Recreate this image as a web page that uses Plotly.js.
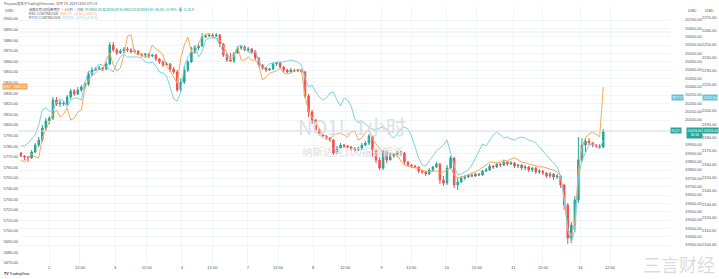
<!DOCTYPE html>
<html><head><meta charset="utf-8">
<script src="https://cdn.plot.ly/plotly-3.0.1.min.js"></script>
<style>html,body{margin:0;padding:0;background:#fff;}#chart{width:719px;height:279px;}</style>
</head><body><div id="chart"></div>
<script>
const W = 719, H = 279;

// NQ1! 1h candles
const nqOpen = [19902,19884,19878,19872,19908,19950,19980,20052,20094,20112,
20220,20196,20202,20196,20238,20274,20256,20280,20298,20316,
20376,20400,20406,20412,20406,20436,20550,20520,20502,20514,
20526,20520,20508,20514,20496,20490,20496,20484,20490,20466,
20448,20430,20436,20406,20388,20280,20328,20400,20448,20508,
20532,20544,20598,20604,20610,20604,20610,20556,20490,20460,
20454,20502,20532,20538,20520,20526,20508,20472,20430,20412,
20400,20406,20436,20442,20418,20400,20388,20400,20394,20400,
20388,20244,20148,20100,20040,20016,20004,19992,19980,19902,
19932,19950,19944,19938,19926,19920,19932,19950,19962,20004,
19920,19860,19812,19908,19860,19884,19890,19908,19902,19848,
19830,19824,19818,19794,19788,19776,19800,19818,19836,19740,
19722,19812,19872,19710,19728,19752,19758,19770,19764,19776,
19770,19794,19800,19824,19818,19836,19830,19848,19836,19842,
19824,19830,19812,19818,19800,19812,19788,19794,19782,19764,
19776,19758,19764,19710,19590,19392,19470,19620,19860,19950,
19974,19962,19950,19944,19938];
const nqHigh = [19908,19890,19884,19920,19962,19998,20070,20112,20124,20238,
20238,20220,20214,20250,20286,20286,20298,20310,20328,20394,
20418,20418,20424,20418,20448,20568,20568,20532,20526,20538,
20538,20532,20526,20520,20502,20502,20502,20496,20496,20472,
20460,20448,20442,20418,20400,20352,20424,20460,20538,20550,
20562,20622,20616,20622,20622,20622,20616,20562,20502,20502,
20508,20544,20550,20550,20538,20532,20520,20478,20436,20418,
20412,20448,20448,20448,20424,20406,20412,20406,20406,20406,
20394,20256,20160,20106,20052,20022,20010,19998,19986,19944,
19962,19956,19950,19944,19938,19938,19962,19974,20016,20010,
19926,19878,19920,19920,19902,19902,19914,19914,19908,19854,
19836,19830,19824,19800,19794,19812,19824,19848,19842,19764,
19830,19884,19878,19752,19764,19770,19776,19782,19782,19782,
19800,19812,19836,19830,19842,19842,19860,19854,19854,19848,
19836,19836,19830,19824,19818,19818,19806,19800,19788,19788,
19782,19776,19770,19716,19602,19488,19644,19998,19992,19992,
19992,19968,19956,19956,20046];
const nqLow = [19878,19860,19848,19866,19902,19938,19968,20034,20076,20100,
20184,20178,20184,20190,20226,20244,20250,20268,20286,20304,
20364,20394,20400,20394,20400,20430,20508,20490,20496,20502,
20508,20502,20502,20490,20478,20478,20472,20478,20454,20436,
20418,20424,20388,20376,20268,20268,20316,20388,20442,20496,
20520,20538,20592,20598,20592,20598,20538,20478,20448,20448,
20442,20496,20520,20514,20508,20496,20460,20418,20400,20388,
20394,20400,20424,20412,20388,20382,20388,20388,20388,20382,
20232,20118,20076,20022,20004,19992,19980,19968,19890,19896,
19926,19932,19932,19914,19908,19914,19920,19944,19950,19878,
19842,19800,19800,19842,19860,19872,19878,19884,19830,19818,
19812,19812,19782,19776,19764,19770,19788,19812,19716,19704,
19710,19806,19692,19680,19722,19740,19752,19758,19758,19764,
19764,19788,19794,19806,19812,19818,19824,19824,19830,19812,
19812,19800,19800,19788,19788,19776,19776,19770,19752,19752,
19740,19746,19692,19560,19356,19362,19428,19602,19848,19902,
19950,19938,19932,19932,19932];
const nqClose = [19884,19878,19872,19908,19950,19980,20052,20094,20112,20220,
20196,20202,20196,20238,20274,20256,20280,20298,20316,20376,
20400,20406,20412,20406,20436,20550,20520,20502,20514,20526,
20520,20508,20514,20496,20490,20496,20484,20490,20466,20448,
20430,20436,20406,20388,20280,20328,20400,20448,20508,20532,
20544,20598,20604,20610,20604,20610,20556,20490,20460,20454,
20502,20532,20538,20520,20526,20508,20472,20430,20412,20400,
20406,20436,20442,20418,20400,20388,20400,20394,20400,20388,
20244,20148,20100,20040,20016,20004,19992,19980,19902,19932,
19950,19944,19938,19926,19920,19932,19950,19962,20004,19920,
19860,19812,19908,19860,19884,19890,19908,19902,19848,19830,
19824,19818,19794,19788,19776,19800,19818,19836,19740,19722,
19812,19872,19710,19728,19752,19758,19770,19764,19776,19770,
19794,19800,19824,19818,19836,19830,19848,19836,19842,19824,
19830,19812,19818,19800,19812,19788,19794,19782,19764,19776,
19758,19764,19710,19590,19392,19470,19620,19860,19950,19974,
19962,19950,19944,19938,20034];

// ES1! comparison (orange, left scale)
const esClose = [5767,5765,5769,5772.75,5769.75,5769,5787.75,5795.25,5803.75,5810.5,
5814.25,5807.5,5810.5,5816,5804.75,5806.5,5812.25,5814.25,5835,5842.5,
5846.25,5849,5852.75,5852,5861.25,5868,5856.5,5851,5853.75,5866,
5884,5885,5868,5866,5867,5863.25,5866,5875.5,5871.75,5869.75,
5866,5855.75,5851,5845.25,5839.5,5863.25,5875.5,5883,5869,5868,
5876.5,5883,5885.75,5885.75,5883,5882,5880.25,5874.5,5868,5861.25,
5865,5874.5,5861.25,5861.25,5864.25,5861.25,5861.25,5856.5,5842.5,5845.25,
5849,5850,5851,5853.75,5849,5848,5849,5851,5852,5852,
5826.5,5813.25,5806.5,5801,5797.25,5791.5,5788.75,5785.75,5790.5,5791.5,
5792.5,5790.5,5788.75,5793.5,5794.25,5785.75,5787.75,5792.5,5795.25,5786.75,
5782,5777.25,5773.5,5775.5,5771.75,5772.75,5771.75,5766,5762.25,5761.25,
5760.5,5759.5,5759.5,5757.5,5756.5,5755.75,5756.5,5756.5,5754.75,5755.75,
5757.5,5759.5,5752.75,5750,5751,5752,5752.75,5754.75,5755.75,5757.5,
5759.5,5762.25,5765,5765,5764.25,5765,5767,5766,5768,5769,
5767,5765,5764.25,5763.25,5762.25,5761.25,5760.5,5760.5,5759.5,5758.5,
5757.5,5755.75,5752,5731.25,5702.75,5695.25,5708.5,5757.5,5778.25,5787.75,
5791.5,5793.5,5791.5,5788.75,5835.75];

// RTY1! comparison (cyan, outer right scale)
const rtyClose = [2173.75,2173.75,2176,2179,2182,2189.5,2200.75,2202.25,2200,2200,
2206.75,2209,2207.5,2203,2208.25,2209.75,2209.75,2208.25,2221,2230,
2228.5,2231.5,2235.25,2234.5,2233,2231.5,2229.25,2236,2240.5,2242.75,
2240.5,2240.5,2240.5,2240.5,2239.75,2236.75,2236,2236.75,2233.75,2229.25,
2228.5,2226.25,2218,2209,2207.5,2214.25,2233.75,2240.5,2245,2249.5,
2240.5,2244.25,2253.25,2254.75,2254.75,2254.75,2249.5,2244.25,2240.5,2240.5,
2242.75,2248,2249.5,2246.5,2244.25,2243.5,2245,2238.25,2231.5,2233,
2235.25,2236,2236.75,2236.75,2236.75,2237.5,2238.25,2237.5,2236.75,2234.5,
2224.75,2218,2219.5,2214.25,2210.5,2208.25,2209.75,2213.5,2214.25,2208.25,
2203.75,2209.75,2208.25,2203.75,2194,2191,2192.5,2190.25,2188,2186.5,
2185.75,2187.25,2188,2186.5,2182,2179.75,2183.5,2186.5,2188,2186.5,
2181.25,2172.25,2164.75,2159.5,2158.75,2162.5,2166.25,2170,2172.25,2174.5,
2178.25,2169.25,2158.75,2152,2152.75,2154.25,2155.75,2159.5,2164.75,2169.25,
2175.25,2173.75,2177.5,2182,2184.25,2182,2179.75,2180.5,2179,2178.25,
2179.75,2180.5,2179.75,2178.25,2177.5,2176,2173,2169.25,2166.25,2163.25,
2161,2158,2151.25,2133.25,2110.75,2101.75,2110.75,2149.75,2163.25,2169.25,
2174.5,2175.25,2173.75,2171.5,2178.25];

// time axis labels (bar index -> label)
const xTickVals = [7.9,16.6,26.5,35.4,45.3,53.9,63.9,72.4,82.3,91.3,101.6,109.9,119.9,128.4,138.7,147,157.5,165.9];
const xTickText = ['2','12:00','3','12:00','4','12:00','7','12:00','8','12:00','9','12:00','10','12:00','11','12:00','14','12:00'];

// price scale labels (labels hidden behind the price tags are left out)
const nqTicks = [19350,19400,19450,19500,19550,19600,19650,19700,19750,19800,19850,19900,19950,20100,20150,20200,20250,20300,20350,20400,20450,20500,20550,20600,20650,20700];
const esTicks = [5670,5680,5690,5700,5710,5720,5730,5740,5750,5760,5770,5780,5790,5800,5810,5820,5830,5840,5850,5860,5870,5880,5890,5900];
const rtyTicks = [2100,2110,2120,2130,2140,2150,2160,2170,2180,2190,2200,2220,2230,2240,2250,2260,2270];

const barIdx = nqClose.map((_, i) => i);
const last = nqClose.length - 1;

const FONT = 'Liberation Sans, Arial, sans-serif';
const CJK = 'Noto Sans CJK SC, Liberation Sans, sans-serif';
const GREEN = '#26a69a', RED = '#ef5350', ORANGE = '#f6a85c', CYAN = '#7fd0e2';
const TXT = '#4a4e5a';

const px = v => v / W;
const py = v => 1 - v / H;

const traces = [
  {type:'scatter', mode:'lines', x: barIdx, y: rtyClose, yaxis:'y3',
   line:{color:CYAN, width:1}, hoverinfo:'skip'},
  {type:'scatter', mode:'lines', x: barIdx, y: esClose, yaxis:'y2',
   line:{color:ORANGE, width:1}, hoverinfo:'skip'},
  {type:'candlestick', x: barIdx, open: nqOpen, high: nqHigh, low: nqLow, close: nqClose,
   yaxis:'y', whiskerwidth:0,
   increasing:{line:{color:GREEN, width:1}, fillcolor:GREEN},
   decreasing:{line:{color:RED, width:1}, fillcolor:RED}, hoverinfo:'skip'}
];

function ann(x, y, text, o) {
  return Object.assign({xref:'paper', yref:'paper', x:px(x), y:py(y), text:text, showarrow:false,
    xanchor:'left', yanchor:'middle', font:{family:FONT, size:4, color:TXT}}, o || {});
}
function tag(x, y, text, bg, o) {
  return ann(x, y, text, Object.assign({bgcolor:bg, borderpad:0.6, font:{family:FONT, size:3.6, color:'#ffffff'}}, o || {}));
}

const annotations = [
  ann(2, 3.5, 'Pinyuan发布于TradingView.com, 10月 14, 2024 18:05 UTC+8', {font:{family:CJK, size:3.4, color:'#555'}}),
  ann(3, 10, 'USD'),
  ann(686, 10, 'USD'),
  ann(703, 10, 'USD'),
  ann(27, 9.6, '纳斯达克100指数期货 · 1小时 · CME  <span style="color:#26a69a">开19938.00 高20046.00 低19932.00 收20034.00 +96.00 (+0.48%)</span>  量  <span style="color:#26a69a">12.35 K</span>', {font:{family:CJK, size:3.2, color:TXT}}),
  ann(27, 13.8, 'ES1! CONTINUOUS  <span style="color:#f6a85c">5835.75  +47.00 (+0.81%)</span>', {font:{family:FONT, size:3.2, color:TXT}}),
  ann(27, 18, 'RTY1! CONTINUOUS  <span style="color:#7fd0e2">2178.25  +6.75 (+0.31%)</span>', {font:{family:FONT, size:3.2, color:TXT}}),
  // watermark
  ann(352, 126, 'NQ1!, 1小时', {xanchor:'center', font:{family:CJK, size:20, color:'#dcdfe4'}}),
  ann(352, 151, '纳斯达克100指数期货', {xanchor:'center', font:{family:CJK, size:10.5, color:'#dcdfe4'}}),
  // price tags
  tag(2, 87, 'ES1!  5835.75', '#f6a85c'),
  tag(671, 97.5, 'RTY1!', '#5fc3da'),
  tag(702, 97.5, '2210.50', '#5fc3da'),
  tag(670, 130.5, 'NQ1!', GREEN),
  tag(686, 132.5, '20034.00<br>34:56', GREEN, {font:{family:FONT, size:3.4, color:'#fff'}}),
  tag(701.5, 130.5, '20034.00', GREEN, {font:{family:FONT, size:3.4, color:'#fff'}}),
  // footer
  ann(2, 274, '<b>TV</b> TradingView', {font:{family:FONT, size:3.6, color:'#131722'}}),
  ann(717, 264, '三言财经', {xanchor:'right', font:{family:CJK, size:18, color:'rgba(150,150,150,0.35)'}})
];

const shapes = [
  {type:'line', xref:'paper', yref:'y', x0:px(19), x1:px(670), y0:nqClose[last], y1:nqClose[last],
   line:{color:'#d4d7de', width:1}},
  {type:'line', xref:'paper', yref:'paper', x0:px(19), x1:px(670), y0:py(32), y1:py(32),
   line:{color:'#eceef2', width:1}}
];

const axisFont = {family:FONT, size:4, color:TXT};
const layout = {
  width:W, height:H, margin:{l:0, r:0, t:0, b:0},
  paper_bgcolor:'#ffffff', plot_bgcolor:'#ffffff', showlegend:false,
  xaxis:{domain:[px(19), px(670)], range:[-0.56, 182.8], anchor:'y', showline:false, zeroline:false,
    tickvals:xTickVals, ticktext:xTickText, ticks:'', tickfont:axisFont, showgrid:true, gridcolor:'#f3f4f6',
    rangeslider:{visible:false}, fixedrange:true},
  yaxis:{domain:[1 - 264/H, 1 - 6/H], range:[19236, 20784], anchor:'free', position:px(684), side:'right',
    tickvals:nqTicks, tickformat:'.2f', tickfont:axisFont, ticks:'', showline:false, zeroline:false,
    showgrid:true, gridcolor:'#f3f4f6'},
  yaxis2:{overlaying:'y', side:'left', anchor:'x', range:[5668.86, 5912.26], tickvals:esTicks, tickformat:'.2f',
    tickfont:axisFont, ticks:'', showline:false, zeroline:false, showgrid:false},
  yaxis3:{overlaying:'y', side:'right', anchor:'free', position:px(701), range:[2085.25, 2278.75],
    tickvals:rtyTicks, tickformat:'.2f', tickfont:axisFont, ticks:'', showline:false, zeroline:false, showgrid:false},
  boxgap:0.4,
  annotations:annotations, shapes:shapes
};

Plotly.newPlot('chart', traces, layout, {staticPlot:true, displayModeBar:false});
</script>
</body></html>
